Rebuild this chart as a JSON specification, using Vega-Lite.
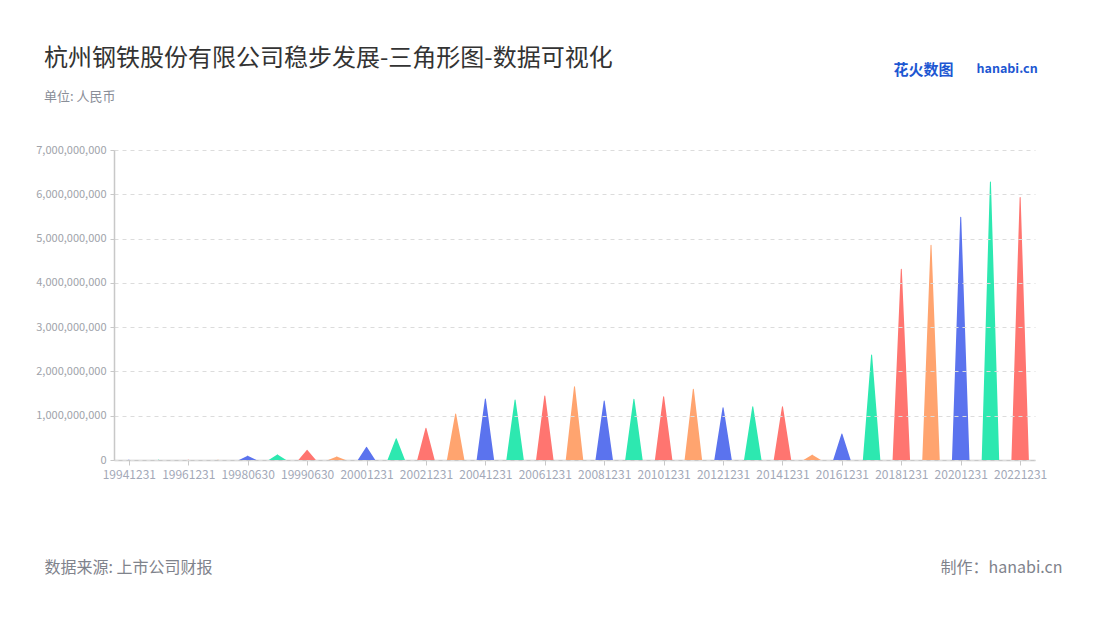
{
  "$schema": "https://vega.github.io/schema/vega-lite/v6.json",
  "autosize": {"type": "none"},
  "width": 921,
  "height": 310,
  "padding": {"left": 114, "top": 150, "right": 65, "bottom": 160},
  "background": "#ffffff",
  "config": {
    "font": "Noto Sans CJK SC",
    "view": {"stroke": null}
  },
  "title": {
    "text": "杭州钢铁股份有限公司稳步发展-三角形图-数据可视化",
    "subtitle": "单位: 人民币",
    "anchor": "start",
    "frame": "group",
    "dx": -70,
    "offset": -42,
    "fontSize": 24,
    "fontWeight": "normal",
    "color": "#333333",
    "subtitleFontSize": 13,
    "subtitleColor": "#8a8e98",
    "subtitlePadding": 20
  },
  "data": {
    "values": [
      {"date": "19941231", "amount": 0},
      {"date": "19951231", "amount": 0},
      {"date": "19961231", "amount": 0},
      {"date": "19971231", "amount": 0},
      {"date": "19980630", "amount": 90000000},
      {"date": "19981231", "amount": 120000000},
      {"date": "19990630", "amount": 222000000},
      {"date": "19991231", "amount": 75000000},
      {"date": "20001231", "amount": 287000000},
      {"date": "20011231", "amount": 480000000},
      {"date": "20021231", "amount": 715000000},
      {"date": "20031231", "amount": 1040000000},
      {"date": "20041231", "amount": 1377000000},
      {"date": "20051231", "amount": 1355000000},
      {"date": "20061231", "amount": 1445000000},
      {"date": "20071231", "amount": 1655000000},
      {"date": "20081231", "amount": 1330000000},
      {"date": "20091231", "amount": 1370000000},
      {"date": "20101231", "amount": 1430000000},
      {"date": "20111231", "amount": 1600000000},
      {"date": "20121231", "amount": 1180000000},
      {"date": "20131231", "amount": 1200000000},
      {"date": "20141231", "amount": 1200000000},
      {"date": "20151231", "amount": 113000000},
      {"date": "20161231", "amount": 587000000},
      {"date": "20171231", "amount": 2370000000},
      {"date": "20181231", "amount": 4310000000},
      {"date": "20191231", "amount": 4850000000},
      {"date": "20201231", "amount": 5480000000},
      {"date": "20211231", "amount": 6280000000},
      {"date": "20221231", "amount": 5930000000}
    ]
  },
  "transform": [
    {"fold": ["amount"]},
    {"impute": "value", "key": "key", "keyvals": ["amount", "base"], "groupby": ["date"], "value": 0}
  ],
  "layer": [
    {
      "mark": {"type": "trail", "clip": true},
      "encoding": {
        "x": {
          "field": "date",
          "type": "nominal",
          "sort": "ascending",
          "scale": {"type": "point", "padding": 0.5},
          "axis": {
            "values": ["19941231", "19961231", "19980630", "19990630", "20001231", "20021231", "20041231", "20061231", "20081231", "20101231", "20121231", "20141231", "20161231", "20181231", "20201231", "20221231"],
            "labelAngle": 0,
            "labelFontSize": 12,
            "labelColor": "#a3a9b8",
            "labelPadding": 4,
            "tickSize": 5,
            "tickColor": "#c8c8c8",
            "domainColor": "#c8c8c8",
            "domainWidth": 1.5,
            "grid": false,
            "title": "数据来源: 上市公司财报",
            "titleX": -70,
            "titleY": 107,
            "titleAlign": "left",
            "titleBaseline": "middle",
            "titleFontSize": 16,
            "titleFontWeight": "normal",
            "titleColor": "#7f838c"
          }
        },
        "y": {
          "field": "value",
          "type": "quantitative",
          "scale": {"domain": [0, 7000000000], "nice": false},
          "axis": {
            "values": [0, 1000000000, 2000000000, 3000000000, 4000000000, 5000000000, 6000000000, 7000000000],
            "format": ",d",
            "labelFontSize": 11,
            "labelColor": "#a0a3aa",
            "labelPadding": 4,
            "tickSize": 4,
            "tickColor": "#c8c8c8",
            "domainColor": "#c8c8c8",
            "domainWidth": 1.5,
            "grid": true,
            "gridColor": "#dcdcdc",
            "gridDash": [4, 4],
            "zindex": 1,
            "title": "制作：hanabi.cn",
            "titleAngle": 0,
            "titleX": 948,
            "titleY": 417,
            "titleAlign": "right",
            "titleBaseline": "middle",
            "titleFontSize": 16,
            "titleFontWeight": "normal",
            "titleColor": "#7f838c"
          }
        },
        "color": {
          "field": "date",
          "type": "nominal",
          "scale": {"range": ["#5b73ee", "#2de8b0", "#ff7570", "#ffa46f"]},
          "legend": null
        },
        "size": {
          "condition": {"test": "datum.key === 'base'", "value": 17.5},
          "value": 0
        },
        "order": {"field": "key", "sort": "descending"}
      }
    },
    {
      "mark": {"type": "point", "opacity": 0},
      "encoding": {
        "x": {
          "field": "date",
          "type": "nominal",
          "sort": "ascending",
          "axis": {
            "orient": "top",
            "labels": false,
            "ticks": false,
            "domain": false,
            "grid": false,
            "title": "花火数图",
            "titleX": 779,
            "titleY": -81,
            "titleAlign": "left",
            "titleBaseline": "middle",
            "titleFontSize": 15,
            "titleFontWeight": "bold",
            "titleColor": "#1d57d2"
          }
        },
        "y": {
          "field": "value",
          "type": "quantitative",
          "axis": {
            "orient": "right",
            "labels": false,
            "ticks": false,
            "domain": false,
            "grid": false,
            "title": "hanabi.cn",
            "titleAngle": 0,
            "titleX": -59,
            "titleY": -82,
            "titleAlign": "left",
            "titleBaseline": "middle",
            "titleFontSize": 12.5,
            "titleFontWeight": "bold",
            "titleColor": "#1d57d2"
          }
        }
      }
    }
  ],
  "resolve": {"axis": {"x": "independent", "y": "independent"}}
}
